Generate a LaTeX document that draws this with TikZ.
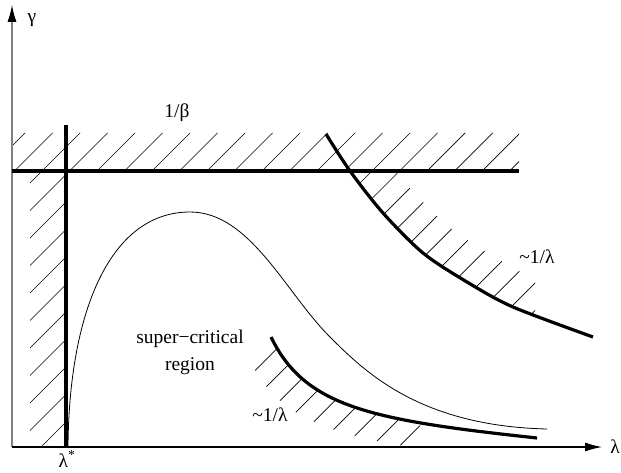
\documentclass[tikz,border=0pt]{standalone}
\usepackage{fontspec}
\setmainfont{Liberation Serif}
\usetikzlibrary{arrows.meta}
\tikzset{
  axis/.style={
    line width=1.1pt,
    -{Latex[length=17pt,width=9pt,color=black]}
  },
  bound/.style={
    line width=3.2pt
  },
  hatch/.style={
    line width=0.7pt
  },
  curve/.style={
    line width=0.8pt
  },
  lab/.style={
    font=\fontsize{19.5}{27}\selectfont,
    inner sep=0pt
  }
}
\newcommand{\hatching}{%
  \foreach \k in {-24,...,19}{\draw[hatch] (-5,{-6.6+2.75*\k}) -- ++(75,75);}}

\begin{document}
\begin{tikzpicture}[x=10pt,y=10pt]
\useasboundingbox (0,0) rectangle (62.1,47.2);
\coordinate (O) at (1.2,2.5);
\coordinate (xend) at (60.2,2.5);
\coordinate (yend) at (1.2,46.7);
% hatched strips
\begin{scope}
  \clip (1.2,30.1) rectangle (51.9,33.9) (3.0,2.5) rectangle (6.6,30.1);
  \hatching
\end{scope}
\begin{scope}
  \clip (0,2.5) rectangle (53.5,30.1);
  \clip plot[smooth] coordinates {(32.6,33.8) (35.0,30.1) (38.3,25.9) (42.3,21.9) (46.7,19.0) (51.3,16.5) (59.3,13.5)}
     -- plot[smooth] coordinates {(61.9,16.1) (53.9,19.1) (49.3,21.6) (44.9,24.5) (40.9,28.5) (37.6,32.7) (35.2,36.4)} -- cycle;
  \hatching
\end{scope}
\begin{scope}
  \clip (0,2.5) rectangle (42,20);
  \clip (27.1,13.5) .. controls (30.5,6.5) and (37.0,5.2) .. (53.7,3.4)
     -- (51.5,1.2) .. controls (34.8,3.0) and (28.3,4.3) .. (24.9,11.3) -- cycle;
  \hatching
\end{scope}
% axes
\draw[axis, draw=gray] (O) -- (yend);
\draw[axis] (O) -- (xend);
% boundaries
\coordinate (lamstar) at (6.6,2.5);
\coordinate (lamtop) at (6.6,34.7);
\coordinate (betaL) at (1.2,30.1);
\coordinate (betaR) at (51.9,30.1);
\coordinate (lowA) at (27.1,13.5);
\coordinate (lowB) at (53.7,3.4);
\draw[bound] (lamstar) -- (lamtop);
\draw[bound] (betaL) -- (betaR);
\draw[bound] plot[smooth] coordinates {(32.6,33.8) (35.0,30.1) (38.3,25.9) (42.3,21.9) (46.7,19.0) (51.3,16.5) (59.3,13.5)};
\draw[bound] (lowA) .. controls (30.5,6.5) and (37.0,5.2) .. (lowB);
% critical curve
\coordinate (cstart) at (6.8,2.5);
\coordinate (cpeak) at (19.0,26.0);
\coordinate (cmid) at (33.0,13.5);
\coordinate (cend) at (54.7,4.3);
\draw[curve] (cstart) .. controls (6.9,16.0) and (11.0,26.0) .. (cpeak)
  .. controls (25.0,26.0) and (28.5,18.0) .. (cmid)
  .. controls (36.5,10.0) and (42.0,4.6) .. (cend);
% labels
\node[lab] (gamma) at (3.2,45.2) {γ};
\node[lab] (lambda) at (61.5,2.5) {λ};
\node[lab] (lstar) at (6.7,1.3) {λ\textsuperscript{*}};
\node[lab] (beta) at (17.7,35.9) {1/β};
\node[lab] (upper) at (53.7,21.5) {\textasciitilde1/λ};
\node[lab] (lower) at (27.0,5.7) {\textasciitilde1/λ};
\node[lab, align=center] (region) at (19.0,12.0) {super−critical\\region};
\end{tikzpicture}
\end{document}
